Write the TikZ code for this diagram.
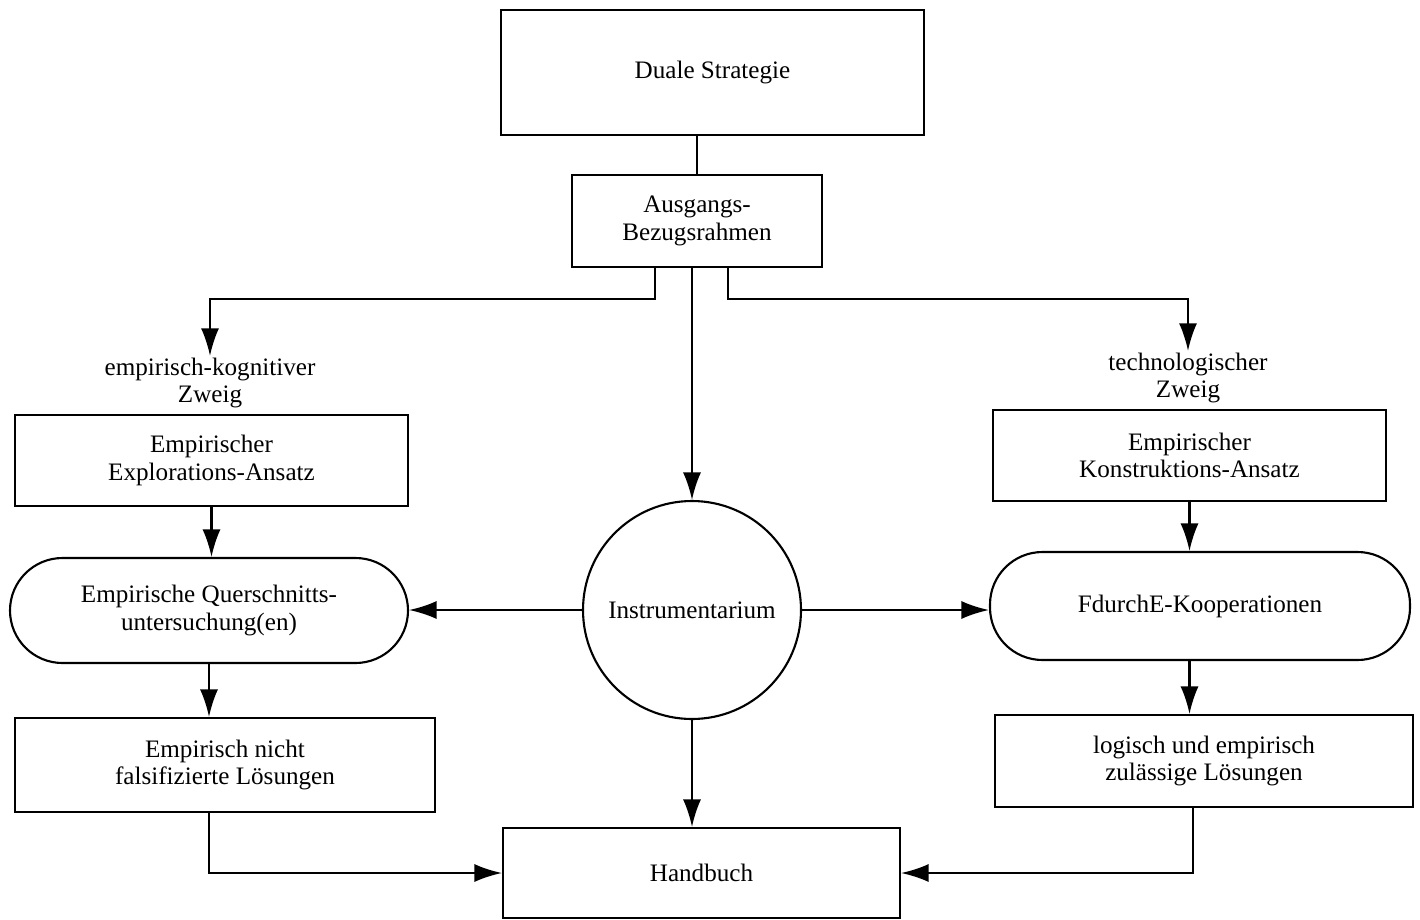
\documentclass[tikz,border=0pt]{standalone}
\usepackage{fontspec}
\setmainfont{Liberation Serif}
\usetikzlibrary{arrows.meta}
\tikzset{>={Latex[length=5.5mm,width=3.6mm]}}
\tikzset{
    kasten/.style={draw, line width=1.2pt, align=center, inner sep=0pt},
    kapsel/.style={kasten, rounded corners=1.05cm},
    zweig/.style={align=center, inner sep=1pt},
    pfeil/.style={->, line width=1.2pt},
    linie/.style={line width=1.2pt}
}

\begin{document}
\begin{tikzpicture}[font=\fontsize{14.3}{15.5}\selectfont]
    \useasboundingbox (0,0) rectangle (28.4,-18.38);
    % oben
    \node[kasten, minimum width=8.46cm, minimum height=2.5cm] (strat) at (14.25,-1.45) {Duale Strategie};
    \node[kasten, minimum width=5cm, minimum height=1.84cm] (ausg) at (13.94,-4.42) {Ausgangs-\\Bezugsrahmen};
    \node[kasten, circle, minimum size=4.36cm] (instr) at (13.84,-12.2) {Instrumentarium};
    \node[kasten, minimum width=7.94cm, minimum height=1.8cm] (hand) at (14.03,-17.46) {Handbuch};
    % linker Zweig
    \node[zweig] (zweigE) at (4.2,-7.66) {empirisch-kognitiver\\Zweig};
    \node[kasten, minimum width=7.86cm, minimum height=1.82cm] (explo) at (4.23,-9.21) {Empirischer\\Explorations-Ansatz};
    \node[kapsel, minimum width=7.96cm, minimum height=2.1cm] (quer) at (4.18,-12.21) {Empirische Querschnitts-\\untersuchung(en)};
    \node[kasten, minimum width=8.4cm, minimum height=1.88cm] (falsi) at (4.5,-15.3) {Empirisch nicht\\falsifizierte Lösungen};
    % rechter Zweig
    \node[zweig] (zweigT) at (23.76,-7.56) {technologischer\\Zweig};
    \node[kasten, minimum width=7.86cm, minimum height=1.82cm] (konst) at (23.79,-9.11) {Empirischer\\Konstruktions-Ansatz};
    \node[kapsel, minimum width=8.4cm, minimum height=2.16cm] (koop) at (24.0,-12.12) {FdurchE-Kooperationen};
    \node[kasten, minimum width=8.36cm, minimum height=1.84cm] (logi) at (24.08,-15.22) {logisch und empirisch\\zulässige Lösungen};
    % Verbindungen
    \draw[linie] (strat.south -| ausg.north) -- (ausg.north);
    \draw[pfeil] (instr.north |- ausg.south) -- (instr.north);
    \draw[pfeil] ([xshift=-0.84cm]ausg.south) -- ++(0,-0.62) -| (zweigE.north);
    \draw[pfeil] ([xshift=0.62cm]ausg.south) -- ++(0,-0.62) -| (zweigT.north);
    \draw[pfeil] (explo.south) -- (explo.south |- quer.north);
    \draw[pfeil] (quer.south) -- (quer.south |- falsi.north);
    \draw[pfeil] (quer.south |- falsi.south) |- (hand.west);
    \draw[pfeil] (instr.west) -- (instr.west -| quer.east);
    \draw[pfeil] (instr.east) -- (instr.east -| koop.west);
    \draw[pfeil] (instr.south) -- (instr.south |- hand.north);
    \draw[pfeil] (konst.south) -- (konst.south |- koop.north);
    \draw[pfeil] (konst.south |- koop.south) -- (konst.south |- logi.north);
    \draw[pfeil] ([xshift=-0.22cm]logi.south) |- (hand.east);
\end{tikzpicture}
\end{document}
